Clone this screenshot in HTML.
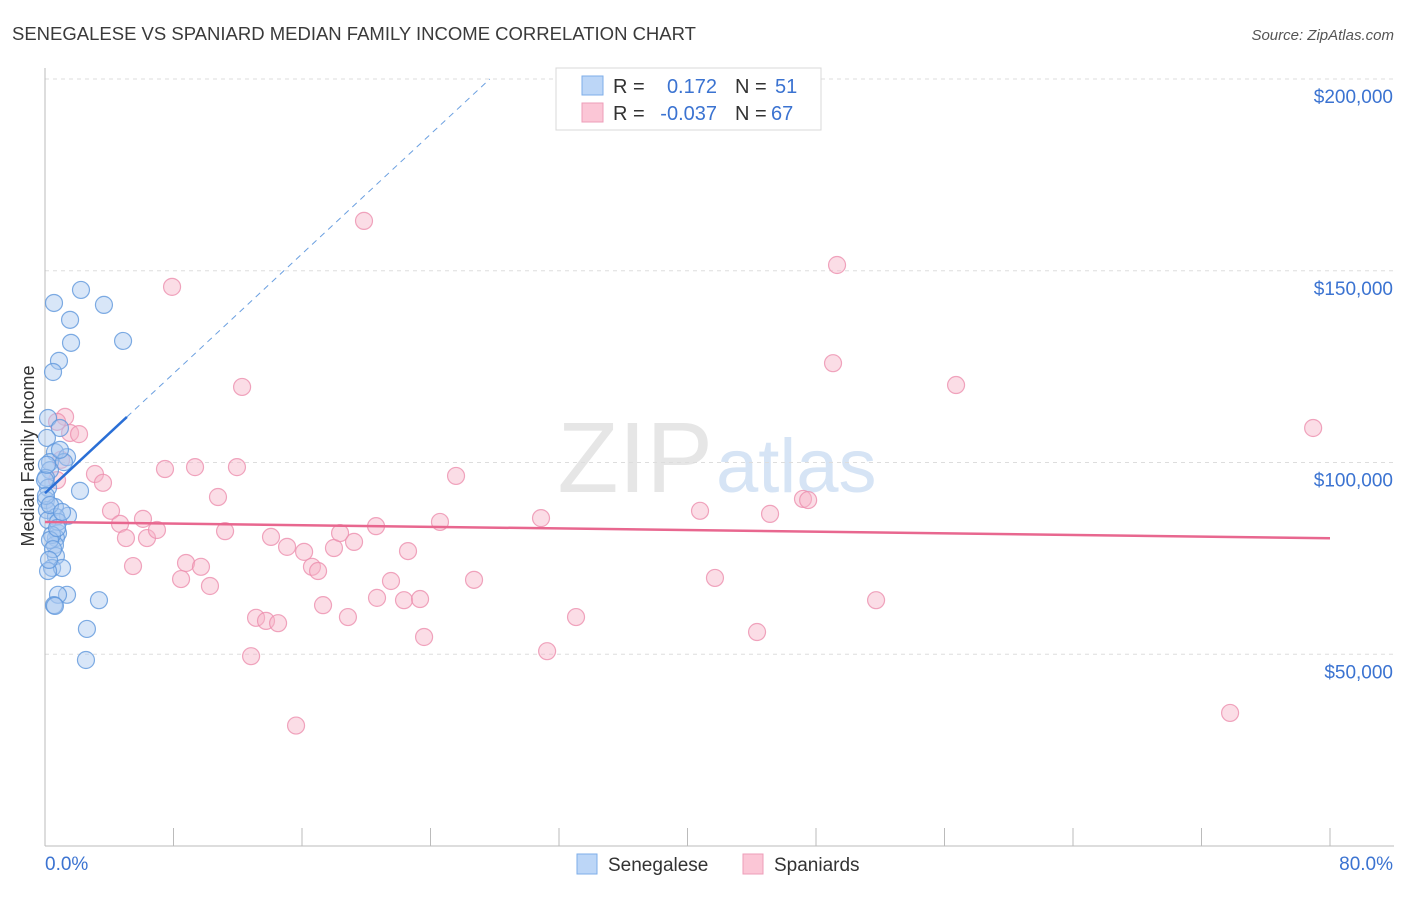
<!DOCTYPE html>
<html><head><meta charset="utf-8"><style>
body{margin:0;background:#fff;font-family:"Liberation Sans",sans-serif}
svg text{font-family:"Liberation Sans",sans-serif}
</style></head><body>
<svg id="chart" width="1406" height="892" viewBox="0 0 1406 892">
<text x="12" y="40" font-size="18.5" fill="#3a3a3a">SENEGALESE VS SPANIARD MEDIAN FAMILY INCOME CORRELATION CHART</text>
<text x="1394" y="40" font-size="15" fill="#555" font-style="italic" text-anchor="end">Source: ZipAtlas.com</text>
<text x="713" y="492" font-size="100" fill="#e6e6e6" text-anchor="end" font-family="Liberation Serif">ZIP</text>
<text x="716" y="492" font-size="76" fill="#d6e4f5">atlas</text>
<g id="grid"></g>
<g id="axes"></g>
<g id="pts"></g>
<g id="trend"></g>
<text transform="translate(34,456) rotate(-90)" font-size="18" fill="#333" text-anchor="middle">Median Family Income</text>
<g>
<rect x="556" y="68" width="265" height="62" fill="#fff" stroke="#d8d8d8"/>
<rect x="582" y="76" width="21" height="19" fill="#bcd6f7" stroke="#7eaee8"/>
<rect x="582" y="103" width="21" height="19" fill="#fbc6d6" stroke="#ee9db8"/>
<text x="613" y="93" font-size="20" fill="#333">R =</text>
<text x="717" y="93" font-size="20" fill="#3b73d1" text-anchor="end">0.172</text>
<text x="735" y="93" font-size="20" fill="#333">N =</text>
<text x="775" y="93" font-size="20" fill="#3b73d1">51</text>
<text x="613" y="120" font-size="20" fill="#333">R =</text>
<text x="717" y="120" font-size="20" fill="#3b73d1" text-anchor="end">-0.037</text>
<text x="735" y="120" font-size="20" fill="#333">N =</text>
<text x="771" y="120" font-size="20" fill="#3b73d1">67</text>
</g>
<g>
<rect x="577" y="854" width="20" height="20" fill="#bcd6f7" stroke="#7eaee8"/>
<text x="608" y="871" font-size="19" fill="#333">Senegalese</text>
<rect x="743" y="854" width="20" height="20" fill="#fbc6d6" stroke="#ee9db8"/>
<text x="774" y="871" font-size="19" fill="#333">Spaniards</text>
</g>
</svg>
<script>
const yTicks=[50000,100000,150000,200000];
const yTickLabels=["$50,000","$100,000","$150,000","$200,000"];
const xLabels=["0.0%","80.0%"];
const blueX=[2.24,0.56,3.67,1.56,1.62,4.86,0.87,0.50,0.19,0.93,0.12,0.62,1.37,0.31,1.18,0.31,0.06,0.19,2.18,0.06,0.62,0.12,1.43,0.68,0.19,0.81,0.68,0.62,0.68,0.44,1.06,0.19,1.37,0.81,3.36,0.56,0.62,2.61,2.55,0.0,0.06,0.31,0.93,0.12,0.81,0.44,0.31,1.06,0.50,0.25,0.75];
const blueY=[145.0,141.6,141.1,137.2,131.2,131.7,126.5,123.6,111.6,109.0,106.4,102.7,101.4,100.1,100.1,98.0,96.0,93.4,92.6,90.2,88.4,87.6,86.1,85.8,85.0,81.6,80.3,78.5,75.6,72.5,72.5,71.7,65.5,65.5,64.1,62.8,62.6,56.6,48.5,95.4,91.3,88.9,103.3,99.4,84.5,81.1,79.8,87.1,77.4,74.6,82.9];
const pinkX=[19.86,49.31,7.91,49.06,12.27,56.72,78.95,1.25,0.75,1.56,2.12,1.00,3.11,3.61,7.47,9.34,11.95,25.59,10.77,4.11,6.10,4.67,5.04,6.35,6.97,11.21,20.61,24.59,30.88,40.78,45.14,47.19,47.51,14.07,15.07,16.13,16.62,17.00,17.99,18.37,19.24,22.60,5.48,8.78,9.71,8.47,10.27,21.54,26.71,41.71,17.31,20.67,22.35,23.35,18.86,13.14,13.76,14.51,33.06,51.74,44.33,23.60,12.83,31.26,15.63,73.78,0.75];
const pinkY=[163.0,151.5,145.8,125.9,119.7,120.2,109.0,111.9,110.6,107.7,107.4,100.7,97.0,94.7,98.3,98.8,98.8,96.5,91.0,87.4,85.3,84.0,80.3,80.3,82.4,82.1,83.4,84.5,85.5,87.4,86.6,90.5,90.2,80.6,78.0,76.7,72.8,71.7,77.7,81.6,79.3,76.9,73.0,73.8,72.8,69.6,67.8,69.1,69.4,69.9,62.8,64.7,64.1,64.4,59.7,59.5,58.7,58.1,59.7,64.1,55.8,54.5,49.5,50.8,31.4,34.7,95.4];
const blueTrend=[92.0,3.9];
const pinkTrend=[84.5,-0.053];
const NS="http://www.w3.org/2000/svg";
const X0=45,X1=1330,Y0=846;
function sx(p){return X0+p/80*(X1-X0);}
function sy(k){return Y0-k*1000/200000*767;}
function mk(t,a,parent){const e=document.createElementNS(NS,t);for(const k in a)e.setAttribute(k,a[k]);parent.appendChild(e);return e;}
const grid=document.getElementById('grid'),axes=document.getElementById('axes'),pts=document.getElementById('pts'),tr=document.getElementById('trend');
yTicks.forEach((v,i)=>{const y=sy(v/1000);
const l=mk('line',{x1:45,x2:1394,y1:y,y2:y,stroke:'#dddddd','stroke-dasharray':'4,4'},grid);


const t=mk('text',{x:1393,y:y+24,'font-size':19,fill:'#3b73d1','text-anchor':'end'},grid);t.textContent=yTickLabels[i];

});
mk('line',{x1:45,x2:45,y1:68,y2:846,stroke:'#bbb'},axes);
mk('line',{x1:45,x2:1394,y1:846,y2:846,stroke:'#bbb'},axes);
for(let i=0;i<=10;i++){const x=sx(i*8);const tk=mk('line',{x1:x,x2:x,y1:828,y2:846,stroke:'#bbb'},axes);

}
const xl0=mk('text',{x:45,y:870,'font-size':19,fill:'#3b73d1'},axes);xl0.textContent=xLabels[0];


const xl1=mk('text',{x:1393,y:870,'font-size':19,fill:'#3b73d1','text-anchor':'end'},axes);xl1.textContent=xLabels[1];


function draw(xs,ys,fill,stroke,name){xs.forEach((x,i)=>{const c=mk('circle',{cx:sx(x),cy:sy(ys[i]),r:8.5,fill:fill,'fill-opacity':0.45,stroke:stroke,'stroke-width':1.2,'stroke-opacity':0.8},pts);

});}
draw(pinkX,pinkY,'#f7b3c8','#ec8fae','spaniard-point');
draw(blueX,blueY,'#a8c8f0','#5f97dc','senegalese-point');
const bEnd=(200-blueTrend[0])/blueTrend[1];
const bs=mk('line',{x1:sx(0),y1:sy(blueTrend[0]),x2:sx(5.1),y2:sy(blueTrend[0]+blueTrend[1]*5.1),stroke:'#2a6fd6','stroke-width':2.5},tr);


const bd=mk('line',{x1:sx(5.1),y1:sy(blueTrend[0]+blueTrend[1]*5.1),x2:sx(bEnd),y2:sy(200),stroke:'#6a9fe0','stroke-width':1,'stroke-dasharray':'6,5'},tr);


const pl=mk('line',{x1:sx(0),y1:sy(pinkTrend[0]),x2:sx(80),y2:sy(pinkTrend[0]+pinkTrend[1]*80),stroke:'#e8678f','stroke-width':2.5},tr);


</script>
</body></html>
